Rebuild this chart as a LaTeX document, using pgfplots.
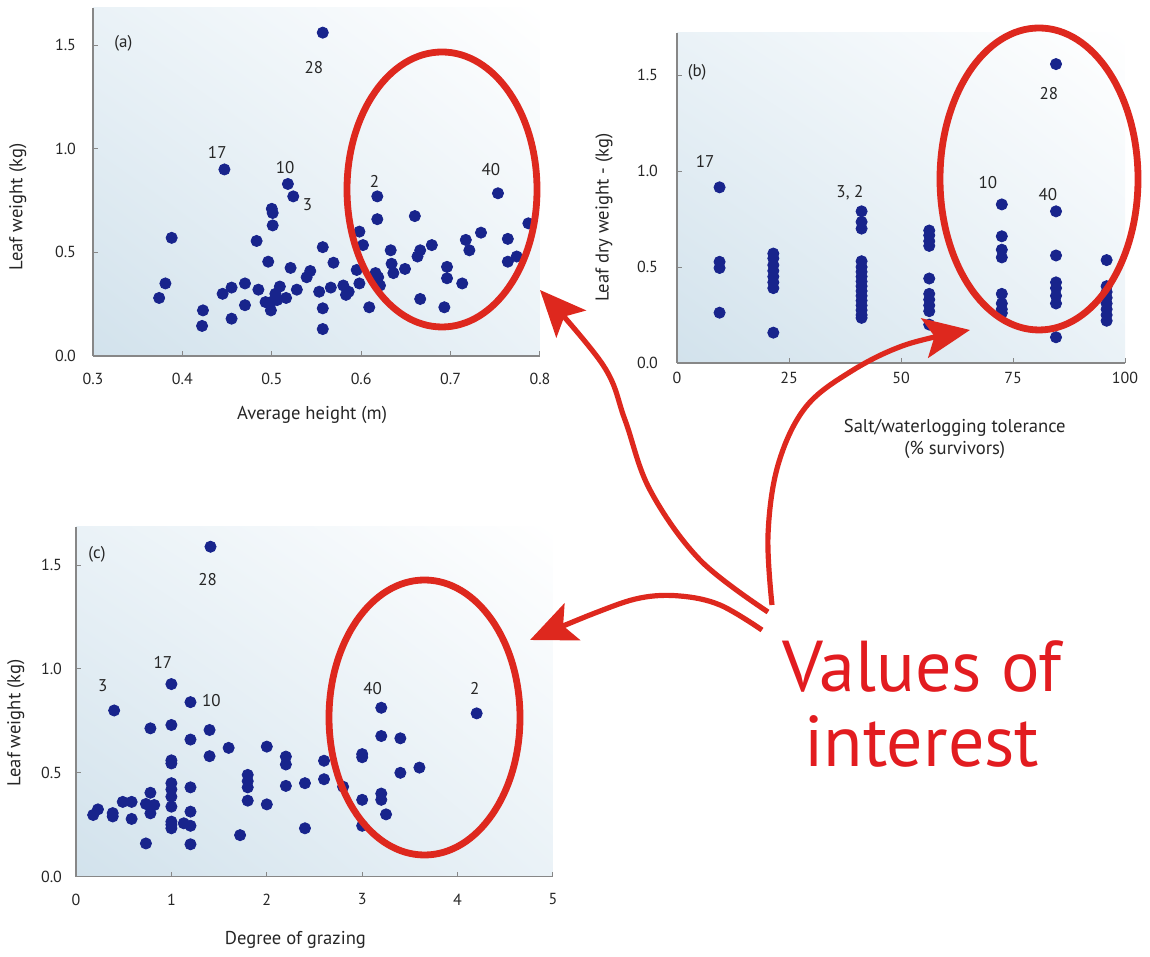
\documentclass[border=0pt]{standalone}
\usepackage{fontspec}
\setmainfont{PT Sans}
\usepackage{pgfplots}
\pgfplotsset{compat=1.18}
\usetikzlibrary{arrows.meta,shadings}

\definecolor{dotblue}{RGB}{24,36,140}
\definecolor{bgblue}{RGB}{210,226,236}
\definecolor{bgmid}{RGB}{234,242,247}
\definecolor{axgray}{RGB}{135,135,135}
\definecolor{redline}{RGB}{222,40,30}
\definecolor{redtext}{RGB}{226,28,32}

\pgfplotsset{
  panel/.style={
    scale only axis,
    anchor=south west,
    axis x line*=bottom, axis y line*=left,
    axis line style={axgray, line width=0.6pt, -},
    tick style={axgray, line width=0.5pt},
    tick align=inside, major tick length=2.5pt,
    ymin=0,
    ytick={0,0.5,1,1.5},
    yticklabel style={/pgf/number format/.cd, fixed, fixed zerofill, precision=1, /tikz/.cd},
    /pgf/number format/assume math mode=true,
    tick label style={font=\fontsize{8}{9.5}\selectfont, text=black!85},
    label style={font=\fontsize{9.3}{11}\selectfont, text=black!85},
    axis background/.style={shade, lower left=bgblue, upper left=bgmid, lower right=bgmid, upper right=white},
    clip=false,
  },
  dots/.style={only marks, mark=*, mark size=2.8pt, mark options={draw=dotblue, fill=dotblue}},
}
\tikzset{lab/.style={font=\fontsize{8.5}{10}\selectfont, text=black!85}}

\begin{document}
\begin{tikzpicture}
\path[use as bounding box] (0,0) rectangle (575pt,478.5pt);

% (a) leaf weight against height
\begin{axis}[panel,
  at={(46.5pt,300.5pt)}, width=223.5pt, height=174pt,
  xmin=0.3, xmax=0.8, ymax=1.679,
  xtick={0.3,0.4,0.5,0.6,0.7,0.8},
  xticklabel style={/pgf/number format/.cd, fixed, fixed zerofill, precision=1, /tikz/.cd, yshift=-5pt},
  yticklabel style={xshift=-5pt},
  xlabel={Average height (m)}, ylabel={Leaf weight (kg)},
  xlabel style={at={(axis description cs:0.49,-0.17)}, anchor=center},
  ylabel style={at={(axis description cs:-0.168,0.428)}, anchor=center},
]
\addplot[dots] coordinates {
(0.374,0.28) (0.381,0.35) (0.388,0.57) (0.422,0.145) (0.423,0.22)
(0.445,0.30) (0.447,0.90) (0.455,0.33) (0.455,0.18) (0.470,0.35)
(0.470,0.245) (0.483,0.555) (0.485,0.32) (0.493,0.26) (0.496,0.455)
(0.500,0.71) (0.501,0.69) (0.501,0.63) (0.499,0.22) (0.499,0.26)
(0.504,0.30) (0.506,0.27) (0.509,0.335) (0.516,0.28) (0.518,0.83)
(0.521,0.425) (0.524,0.77) (0.528,0.32) (0.557,1.56) (0.539,0.38)
(0.543,0.41) (0.553,0.31) (0.557,0.525) (0.557,0.23) (0.557,0.13)
(0.566,0.33) (0.569,0.45) (0.580,0.34) (0.583,0.295) (0.586,0.31)
(0.595,0.415) (0.598,0.60) (0.598,0.35) (0.602,0.535) (0.609,0.235)
(0.618,0.77) (0.618,0.66) (0.616,0.40) (0.619,0.38) (0.621,0.34)
(0.633,0.51) (0.634,0.445) (0.636,0.40) (0.649,0.42) (0.660,0.675)
(0.663,0.48) (0.666,0.51) (0.666,0.275) (0.679,0.535) (0.696,0.43)
(0.696,0.375) (0.693,0.235) (0.713,0.35) (0.717,0.56) (0.721,0.51)
(0.734,0.595) (0.753,0.785) (0.764,0.565) (0.764,0.455) (0.774,0.48)
(0.787,0.64)
};
\node[lab] at (axis cs:0.334,1.51) {(a)};
\node[lab] at (axis cs:0.547,1.39) {28};
\node[lab] at (axis cs:0.439,0.98) {17};
\node[lab] at (axis cs:0.515,0.91) {10};
\node[lab] at (axis cs:0.540,0.73) {3};
\node[lab] at (axis cs:0.615,0.84) {2};
\node[lab] at (axis cs:0.745,0.90) {40};
\end{axis}

% (b) leaf dry weight against salt/waterlogging tolerance
\begin{axis}[panel,
  at={(338.5pt,297pt)}, width=224pt, height=165pt,
  xmin=0, xmax=100, ymax=1.719,
  xtick={0,25,50,75,100},
  xticklabel style={yshift=-1pt},
  yticklabel style={xshift=-6pt},
  xlabel={Salt/waterlogging tolerance\\(\% survivors)}, ylabel={Leaf dry weight - (kg)},
  xlabel style={at={(axis description cs:0.62,-0.229)}, anchor=center, align=center},
  ylabel style={at={(axis description cs:-0.163,0.44)}, anchor=center},
]
\addplot[dots] coordinates {
(9.5,0.915) (9.5,0.527) (9.5,0.495) (9.5,0.262)
(21.5,0.57) (21.5,0.545) (21.5,0.51) (21.5,0.48) (21.5,0.45) (21.5,0.42) (21.5,0.39) (21.5,0.158)
(41.2,0.79) (41.2,0.735) (41.2,0.70) (41.2,0.53) (41.2,0.50) (41.2,0.475) (41.2,0.45)
(41.2,0.425) (41.2,0.40) (41.2,0.375) (41.2,0.35) (41.2,0.325) (41.2,0.30) (41.2,0.275)
(41.2,0.25) (41.2,0.235)
(56.3,0.69) (56.3,0.665) (56.3,0.635) (56.3,0.61) (56.3,0.44) (56.3,0.36) (56.3,0.33)
(56.3,0.30) (56.3,0.27) (56.3,0.20)
(72.5,0.826) (72.5,0.66) (72.5,0.59) (72.5,0.55) (72.5,0.36) (72.5,0.31) (72.5,0.28) (72.5,0.26)
(84.6,1.557) (84.6,0.79) (84.6,0.56) (84.6,0.42) (84.6,0.39) (84.6,0.35) (84.6,0.31) (84.6,0.134)
(95.9,0.536) (95.9,0.40) (95.9,0.37) (95.9,0.34) (95.9,0.31) (95.9,0.28) (95.9,0.25) (95.9,0.22)
};
\node[lab] at (axis cs:4.5,1.515) {(b)};
\node[lab] at (axis cs:6.3,1.05) {17};
\node[lab] at (axis cs:38.6,0.885) {3, 2};
\node[lab] at (axis cs:69.4,0.94) {10};
\node[lab] at (axis cs:82.8,0.88) {40};
\node[lab] at (axis cs:83,1.405) {28};
\end{axis}

% (c) leaf weight against grazing
\begin{axis}[panel,
  at={(38pt,40.15pt)}, width=238.5pt, height=174.85pt,
  xmin=0, xmax=5, ymax=1.683,
  xtick={0,1,2,3,4,5},
  xticklabel style={yshift=-5pt},
  yticklabel style={xshift=-3.5pt},
  xlabel={Degree of grazing}, ylabel={Leaf weight (kg)},
  xlabel style={at={(axis description cs:0.46,-0.181)}, anchor=center},
  ylabel style={at={(axis description cs:-0.126,0.44)}, anchor=center},
]
\addplot[dots] coordinates {
(0.18,0.297) (0.23,0.324) (0.385,0.306) (0.385,0.29) (0.40,0.80) (0.49,0.36)
(0.583,0.36) (0.583,0.278) (0.733,0.35) (0.733,0.16) (0.78,0.714) (0.78,0.404)
(0.78,0.305) (0.82,0.345) (1.0,0.927) (1.0,0.73) (1.0,0.56) (1.0,0.545) (1.0,0.45)
(1.0,0.42) (1.0,0.385) (1.0,0.337) (1.0,0.265) (1.0,0.25) (1.0,0.233) (1.13,0.257)
(1.2,0.84) (1.2,0.66) (1.2,0.43) (1.2,0.313) (1.2,0.245) (1.2,0.156) (1.40,0.706)
(1.40,0.58) (1.41,1.588) (1.6,0.62) (1.72,0.20) (1.8,0.49) (1.8,0.46) (1.8,0.43)
(1.8,0.366) (2.0,0.626) (2.0,0.348) (2.2,0.578) (2.2,0.54) (2.2,0.437) (2.4,0.45)
(2.4,0.233) (2.6,0.558) (2.6,0.469) (2.8,0.433) (3.0,0.59) (3.0,0.575) (3.0,0.37)
(3.0,0.245) (3.2,0.813) (3.2,0.677) (3.2,0.40) (3.2,0.37) (3.25,0.30) (3.4,0.666)
(3.4,0.50) (3.6,0.525) (4.2,0.786)
};
\node[lab] at (axis cs:0.22,1.55) {(c)};
\node[lab] at (axis cs:1.38,1.43) {28};
\node[lab] at (axis cs:0.91,1.03) {17};
\node[lab] at (axis cs:0.28,0.92) {3};
\node[lab] at (axis cs:1.42,0.85) {10};
\node[lab] at (axis cs:3.11,0.907) {40};
\node[lab] at (axis cs:4.18,0.907) {2};
\end{axis}

% red annotations, in pixel units of the reference
\begin{scope}[shift={(0pt,478.5pt)}, x=0.5pt, y=-0.5pt]
\draw[redline, line width=3.4pt] (442,189.5) ellipse [x radius=47.5pt, y radius=68.75pt];
\draw[redline, line width=3.4pt] (1039,179) ellipse [x radius=49.5pt, y radius=75.5pt];
\draw[redline, line width=3.4pt] (424.5,717.5) ellipse [x radius=47.75pt, y radius=68.75pt];
\begin{scope}[redline, line width=2.6pt, -{Stealth[length=23pt, width=20pt, inset=5pt]}]
\draw plot[smooth, tension=0.6] coordinates {(768,612) (700,560) (650,490) (625,420) (603,365) (540,290)};
\draw plot[smooth, tension=0.6] coordinates {(772,605) (768,535) (778,465) (805,408) (850,372) (905,345) (970,330)};
\draw plot[smooth, tension=0.6] coordinates {(762,630) (720,605) (680,596) (640,598) (595,613) (530,640)};
\end{scope}
\node[text=redtext, align=center, font=\fontsize{36}{37.5}\selectfont] at (922,704) {Values of\\interest};
\end{scope}
\end{tikzpicture}
\end{document}
